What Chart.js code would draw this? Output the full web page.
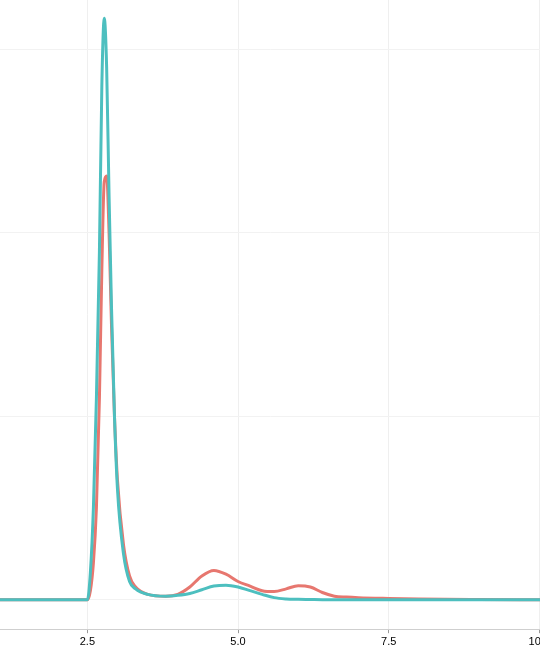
<!DOCTYPE html>
<html><head><style>html,body{margin:0;padding:0;overflow:hidden;background:#fff}#w{width:552px;height:670px}</style>
<script src="https://cdn.jsdelivr.net/npm/chart.js@4"></script></head><body><div id="w"><canvas id="c"></canvas></div>
<script>
const distX=[1.05,2.4,2.5,2.55,2.6,2.65,2.7,2.74,2.78,2.82,2.86,2.9,2.95,3.0,3.1,3.2,3.3,3.5,3.8,4.0,4.2,4.4,4.6,4.8,5.0,5.2,5.4,5.6,5.8,6.0,6.2,6.4,6.6,6.8,7.0,7.5,8.0,9.0,10.03];
const tealY=[0,0,0,0.15,0.5,1.1,1.9,2.8,3.17,2.9,2.2,1.6,1.0,0.6,0.25,0.1,0.06,0.03,0.02,0.025,0.035,0.055,0.075,0.08,0.07,0.05,0.03,0.012,0.005,0.003,0.002,0.001,0.001,0.001,0.001,0.001,0,0,0];
const redY=[0,0,0,0.05,0.2,0.5,1.1,1.8,2.28,2.31,2.0,1.5,1.0,0.65,0.3,0.13,0.07,0.03,0.02,0.03,0.07,0.13,0.16,0.14,0.1,0.075,0.05,0.045,0.06,0.077,0.07,0.04,0.02,0.015,0.012,0.008,0.005,0.002,0];
const xTicks=[2.5,5.0,7.5,10];
const pts=(ys)=>distX.map((x,i)=>({x,y:ys[i]}));
new Chart(document.getElementById('c'),{type:'line',
data:{datasets:[
{data:pts(tealY),borderColor:'#4DBFBF',borderWidth:3,pointRadius:0,cubicInterpolationMode:'monotone'},
{data:pts(redY),borderColor:'#E7776F',borderWidth:3,pointRadius:0,cubicInterpolationMode:'monotone'}]},
options:{responsive:true,maintainAspectRatio:false,animation:false,layout:{padding:0},
plugins:{legend:{display:false},tooltip:{enabled:false}},
scales:{
x:{type:'linear',min:1.05,max:10.03,afterBuildTicks:a=>{a.ticks=xTicks.map(v=>({value:v}))},
 ticks:{color:'#000',font:{family:'Liberation Sans',size:11},padding:2,callback:v=>v===10?'10.0':v.toFixed(1),maxRotation:0,autoSkip:false},
 grid:{color:'#efefef',drawTicks:true,tickLength:4,tickColor:'#999'},border:{color:'#cfcfcf'},
 title:{display:true,text:'Distance to Cu (Å)',color:'#000',font:{family:'Liberation Sans',size:13},padding:{top:0}}},
y:{min:-0.16,max:3.27,afterBuildTicks:a=>{a.ticks=[0,1,2,3].map(v=>({value:v}))},ticks:{display:false},grid:{color:'#f2f2f2',drawTicks:false},border:{display:false}}}}});
</script></body></html>
